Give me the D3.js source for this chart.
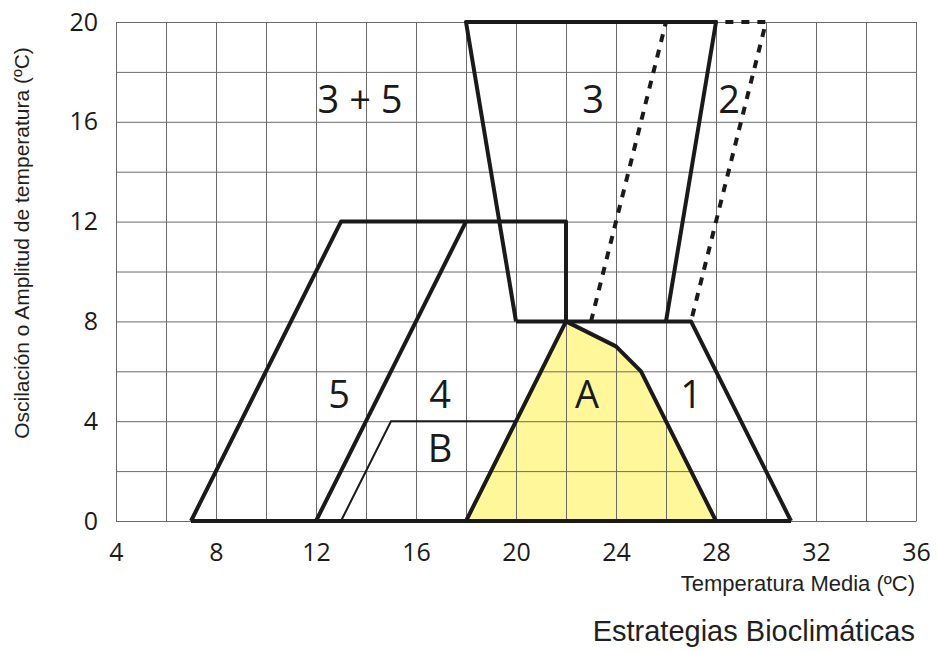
<!DOCTYPE html>
<html lang="es">
    <head>
        <title>Estrategias Bioclimáticas</title>
        <meta charset="utf-8">
        <script src="https://d3js.org/d3.v7.min.js"></script>
        <style>
            * {
                margin: 0;
                padding: 0;
            }
            body {
                background-color: white;
                width: 937px;
                height: 651px;
                overflow: hidden;
            }
            .grid line, .grid path {
                stroke: #6b6b6b;
                stroke-width: 1;
            }
            .ticks text {
                font-family: "Open Sans", sans-serif;
                font-size: 25px;
                fill: #1a1a1a;
            }
        </style>
    </head>
    <body>
        <main></main>
        <script>

            // tick labels
            const xTicks = [4, 8, 12, 16, 20, 24, 28, 32, 36];
            const yTicks = [0, 4, 8, 12, 16, 20];

            // zone outlines as [temperatura media, oscilacion]
            const zoneA = [[18, 0], [22, 8], [24, 7], [25, 6], [28, 0]];
            const zoneB = [[13, 0], [15, 4], [20, 4]];
            const zone5 = [[7, 0], [13, 12], [22, 12], [22, 8]];
            const zone4 = [[12, 0], [18, 12]];
            const zone3 = [[20, 8], [18, 20], [28, 20], [26, 8]];
            const zone1 = [[20, 8], [27, 8], [31, 0]];
            const zone2 = [[23, 8], [26, 20], [30, 20], [27, 8]];
            const baseLine = [[7, 0], [31, 0]];

            // zone labels
            const labelText = ["3 + 5", "3", "2", "5", "4", "A", "1", "B"];
            const labelX = [13.76, 23.08, 28.52, 12.92, 16.96, 22.84, 27.0, 16.96];
            const labelY = [16.36, 16.36, 16.36, 4.52, 4.52, 4.52, 4.52, 2.36];

            const w = 937;
            const h = 651;

            const xScale = d3.scaleLinear()
                .domain([4, 36])
                .range([116, 916]);

            const yScale = d3.scaleLinear()
                .domain([0, 20])
                .range([521, 22]);

            const svg = d3.select("main")
                .append("svg")
                .attr("width", w)
                .attr("height", h);

            const line = d3.line()
                .x(d => xScale(d[0]))
                .y(d => yScale(d[1]));

            // yellow zone A, under the grid
            svg.append("path")
                .attr("d", line(zoneA) + "Z")
                .attr("fill", "#fff799")
                .attr("stroke", "none");

            // grid every 2 units
            svg.append("g")
                .attr("class", "grid")
                .attr("transform", `translate(0, ${yScale(0)})`)
                .call(d3.axisBottom(xScale)
                    .tickValues(d3.range(4, 37, 2))
                    .tickSize(-(yScale(0) - yScale(20)))
                    .tickSizeOuter(0)
                    .tickFormat(""));

            svg.append("g")
                .attr("class", "grid")
                .attr("transform", `translate(${xScale(4)}, 0)`)
                .call(d3.axisLeft(yScale)
                    .tickValues(d3.range(0, 21, 2))
                    .tickSize(-(xScale(36) - xScale(4)))
                    .tickSizeOuter(0)
                    .tickFormat(""));

            const thick = [zone5, zone4, zone3, zone1, baseLine, zoneA];
            svg.selectAll("path.zone")
                .data(thick)
                .enter()
                .append("path")
                .attr("class", "zone")
                .attr("d", d => line(d))
                .attr("fill", "none")
                .attr("stroke", "#1a1a1a")
                .attr("stroke-width", 4)
                .attr("stroke-linejoin", "round");

            svg.append("path")
                .attr("d", line(zoneB))
                .attr("fill", "none")
                .attr("stroke", "#1a1a1a")
                .attr("stroke-width", 2);

            svg.append("path")
                .attr("d", line(zone2))
                .attr("fill", "none")
                .attr("stroke", "#1a1a1a")
                .attr("stroke-width", 4)
                .attr("stroke-dasharray", "8,8");

            // tick labels
            svg.append("g")
                .attr("class", "ticks")
                .attr("transform", `translate(0, ${yScale(0)})`)
                .call(d3.axisBottom(xScale)
                    .tickValues(xTicks)
                    .tickSize(0)
                    .tickPadding(22))
                .call(g => g.select(".domain").remove());

            svg.append("g")
                .attr("class", "ticks")
                .attr("transform", `translate(${xScale(4)}, 0)`)
                .call(d3.axisLeft(yScale)
                    .tickValues(yTicks)
                    .tickSize(0)
                    .tickPadding(18))
                .call(g => g.select(".domain").remove());

            svg.selectAll("text.zlabel")
                .data(labelText)
                .enter()
                .append("text")
                .attr("class", "zlabel")
                .attr("x", (d, i) => xScale(labelX[i]))
                .attr("y", (d, i) => yScale(labelY[i]))
                .attr("text-anchor", "middle")
                .attr("font-family", "Open Sans, sans-serif")
                .attr("font-size", "38px")
                .attr("fill", "#1a1a1a")
                .text(d => d);

            // axis titles
            svg.append("text")
                .attr("transform", "translate(29, 243) rotate(-90)")
                .attr("text-anchor", "middle")
                .attr("font-family", "Liberation Sans, Arial, sans-serif")
                .attr("font-size", "21px")
                .attr("fill", "#231f20")
                .text("Oscilación o Amplitud de temperatura (ºC)");

            svg.append("text")
                .attr("x", 915)
                .attr("y", 591)
                .attr("text-anchor", "end")
                .attr("font-family", "Liberation Sans, Arial, sans-serif")
                .attr("font-size", "22px")
                .attr("fill", "#231f20")
                .text("Temperatura Media (ºC)");

            svg.append("text")
                .attr("x", 915)
                .attr("y", 641)
                .attr("text-anchor", "end")
                .attr("font-family", "Liberation Sans, Arial, sans-serif")
                .attr("font-size", "29px")
                .attr("fill", "#231f20")
                .text("Estrategias Bioclimáticas");

        </script>
    </body>
</html>
